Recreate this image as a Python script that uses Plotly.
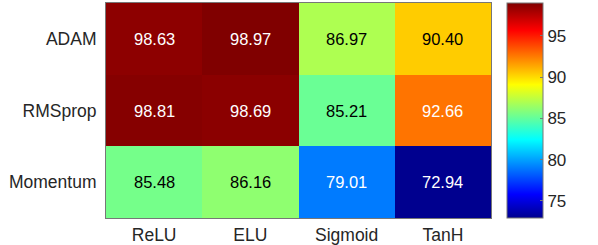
import plotly.graph_objects as go

activations = ["ReLU", "ELU", "Sigmoid", "TanH"]
optimizers = ["ADAM", "RMSprop", "Momentum"]
accuracy = [
    [98.63, 98.97, 86.97, 90.40],
    [98.81, 98.69, 85.21, 92.66],
    [85.48, 86.16, 79.01, 72.94],
]
colorbar_ticks = [75, 80, 85, 90, 95]

jet = [
    [0.0, "rgb(0,0,143)"],
    [0.11, "rgb(0,0,255)"],
    [0.365, "rgb(0,255,255)"],
    [0.62, "rgb(255,255,0)"],
    [0.873, "rgb(255,0,0)"],
    [1.0, "rgb(128,0,0)"],
]

FONT = "Liberation Sans, Arial, Helvetica, sans-serif"
TXT = "#262626"
EDGE = "#777777"

fig = go.Figure(
    go.Heatmap(
        z=accuracy,
        x=activations,
        y=optimizers,
        colorscale=jet,
        xgap=0,
        ygap=0,
        hoverinfo="skip",
        colorbar=dict(
            x=1.0416,
            xanchor="left",
            xpad=0,
            y=0.5,
            yanchor="middle",
            len=1,
            lenmode="fraction",
            ypad=0,
            thickness=36,
            thicknessmode="pixels",
            outlinewidth=1,
            outlinecolor=EDGE,
            tickvals=colorbar_ticks,
            ticks="inside",
            ticklen=3,
            tickcolor=EDGE,
            tickfont=dict(family=FONT, size=17, color=TXT),
        ),
    )
)

annotations = []
for i, opt in enumerate(optimizers):
    for j, act in enumerate(activations):
        v = accuracy[i][j]
        col = "white" if (v > 92 or v < 82) else "black"
        annotations.append(
            dict(
                x=act,
                y=opt,
                xref="x",
                yref="y",
                text=f"{v:.2f}",
                showarrow=False,
                font=dict(family=FONT, size=16.5, color=col),
            )
        )

fig.update_layout(
    width=598,
    height=245,
    margin=dict(l=106, r=107, t=3, b=27, autoexpand=False),
    paper_bgcolor="white",
    plot_bgcolor="white",
    annotations=annotations,
    font=dict(family=FONT, size=17.5, color=TXT),
)
fig.update_xaxes(
    automargin=False,
    showline=True,
    mirror=True,
    linecolor=EDGE,
    linewidth=1,
    ticks="outside",
    ticklen=1,
    tickcolor="rgba(0,0,0,0)",
    tickfont=dict(family=FONT, size=17.5, color=TXT),
)
fig.update_yaxes(
    automargin=False,
    autorange="reversed",
    showline=True,
    mirror=True,
    linecolor=EDGE,
    linewidth=1,
    ticks="outside",
    ticklen=5,
    tickcolor="rgba(0,0,0,0)",
    tickfont=dict(family=FONT, size=17.5, color=TXT),
)

fig.write_html(
    "out.html",
    config={"displayModeBar": False},
    post_script="document.body.style.margin='0px';document.body.style.overflow='hidden';",
)
